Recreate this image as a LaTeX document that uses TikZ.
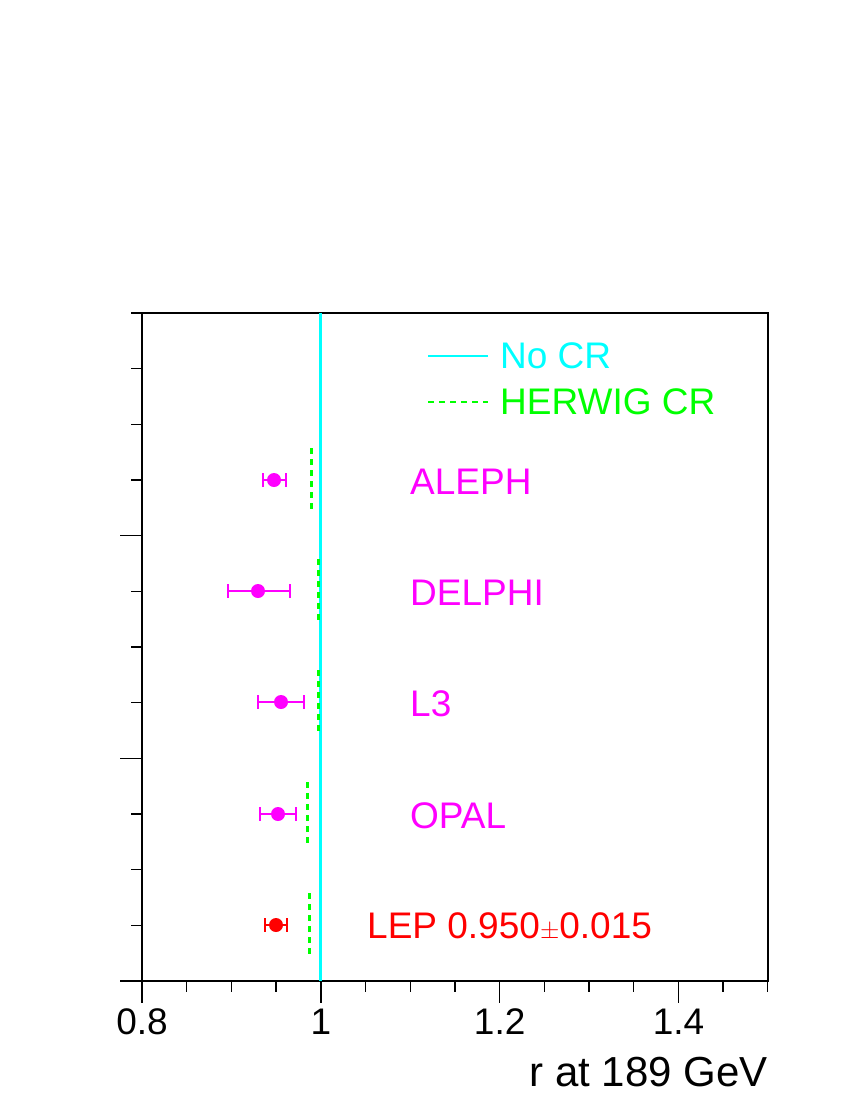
\documentclass[tikz,border=0pt]{standalone}
\usepackage{fontspec}
\setmainfont{Liberation Sans}
\definecolor{rootcyan}{RGB}{0,255,255}
\definecolor{rootmag}{RGB}{255,0,255}
\definecolor{rootgreen}{RGB}{0,255,0}
\definecolor{rootred}{RGB}{255,0,0}
\begin{document}
\begin{tikzpicture}[x=1pt,y=-1pt,
	txt/.style={anchor=west,inner sep=0pt,font=\fontsize{37}{37}\selectfont},
	num/.style={inner sep=0pt,font=\fontsize{37}{37}\selectfont},
	errbar/.style={line width=1.3pt},
	greencr/.style={rootgreen,line width=3pt,dash pattern=on 6pt off 5pt}]
	\useasboundingbox (0,0) rectangle (850,1100);
	% Rahmen und Achsen
	\draw[line width=2pt] (142,313) rectangle (768,981);
	\foreach \y in {313,368.67,...,982}
		\draw[line width=1.3pt] (142,\y) -- (131,\y);
	\foreach \y in {535.67,758.33,981}
		\draw[line width=1.3pt] (142,\y) -- (120,\y);
	\foreach \x in {142,186.7,...,769}
		\draw[line width=1.3pt] (\x,981) -- (\x,992);
	\foreach \x in {142,320.9,499.7,678.6}
		\draw[line width=1.3pt] (\x,981) -- (\x,1003);
	\node[num] (t08) at (142,1022) {0.8};
	\node[num] (t10) at (320.9,1022) {1};
	\node[num] (t12) at (499.7,1022) {1.2};
	\node[num] (t14) at (678.6,1022) {1.4};
	\node[num,anchor=east,font=\fontsize{42}{42}\selectfont] (xlab) at (768,1072) {r at 189 GeV};
	% Linie ohne CR
	\draw[rootcyan,line width=2.5pt] (320.5,313) -- (320.5,981);
	% Legende
	\coordinate (lega) at (428,356);
	\coordinate (legb) at (488,356);
	\draw[rootcyan,line width=2.5pt] (lega) -- (legb);
	\node[txt,rootcyan] (nocr) at (500,356) {No CR};
	\coordinate (legc) at (428,402);
	\coordinate (legd) at (488,402);
	\draw[greencr,line width=2pt] (legc) -- (legd);
	\node[txt,rootgreen] (herwig) at (500,402) {HERWIG CR};
	% Messwerte
	\foreach \name/\yy/\xp/\xa/\xb/\xg/\col in {
		ALEPH/480/274/263/286/311/rootmag,
		DELPHI/591/258/228/290/318/rootmag,
		L3/702/281/258/304/318/rootmag,
		OPAL/814/278/260/296/307/rootmag,
		LEP/925/276/265/287/309/rootred}{
		\draw[greencr] (\xg,\yy-32) -- (\xg,\yy+32);
		\draw[errbar,\col] (\xa,\yy) -- (\xb,\yy);
		\draw[errbar,\col] (\xa,\yy-7) -- (\xa,\yy+7);
		\draw[errbar,\col] (\xb,\yy-7) -- (\xb,\yy+7);
		\fill[\col] (\xp,\yy) circle (7);
	}
	\node[txt,rootmag] (aleph) at (410,482) {ALEPH};
	\node[txt,rootmag] (delphi) at (410,593) {DELPHI};
	\node[txt,rootmag] (lthree) at (410,704) {L3};
	\node[txt,rootmag] (opal) at (410,816) {OPAL};
	\node[txt,rootred] (lep) at (367,927) {LEP 0.950$\pm$0.015};
\end{tikzpicture}
\end{document}
